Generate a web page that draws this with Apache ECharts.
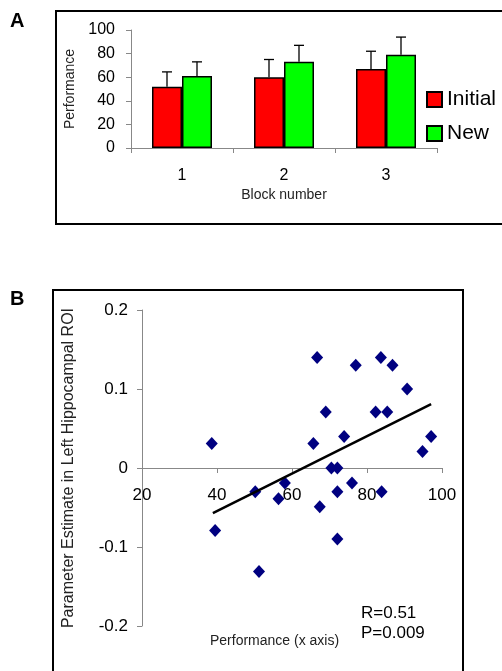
<!DOCTYPE html>
<html>
<head>
<meta charset="utf-8">
<script src="https://cdn.jsdelivr.net/npm/echarts@6/dist/echarts.min.js"></script>
<style>
  html, body { margin: 0; padding: 0; background: #fff; }
  #main { width: 502px; height: 671px; }
</style>
</head>
<body>
<div id="main"></div>
<script>
const FONT = 'Liberation Sans, Arial, sans-serif';

// panel A: performance by block
const blocks = ['1', '2', '3'];
const initialMean = [52, 60, 67];
const initialErr = [12.5, 15, 15];
const newMean = [61, 73, 79];
const newErr = [12, 14, 15];

// panel B: scatter of performance vs parameter estimate
const perfX = [38.6, 66.7, 69.0, 65.7, 73.9, 70.5, 72.1, 77.0, 83.7, 86.8, 90.7, 82.3, 85.4,
  94.8, 97.1, 58.1, 50.2, 56.4, 67.4, 72.1, 76.0, 83.9, 39.5, 72.1, 51.2];
const estY = [0.031, 0.140, 0.071, 0.031, 0.040, 0, 0, 0.130, 0.140, 0.130, 0.100, 0.071, 0.071,
  0.021, 0.040, -0.019, -0.030, -0.039, -0.049, -0.030, -0.019, -0.030, -0.079, -0.090, -0.131];
const trendX = [38.9, 97.1];
const trendY = [-0.057, 0.081];

const chart = echarts.init(document.getElementById('main'));

function errBar(offset) {
  return function (params, api) {
    const base = api.coord([api.value(0), api.value(1)]);
    const top = api.coord([api.value(0), api.value(2)]);
    const x = base[0] + offset;
    const st = { stroke: '#000', lineWidth: 1.3 };
    return {
      type: 'group',
      children: [
        { type: 'line', shape: { x1: x, y1: base[1], x2: x, y2: top[1] }, style: st },
        { type: 'line', shape: { x1: x - 5, y1: top[1], x2: x + 5, y2: top[1] }, style: st }
      ]
    };
  };
}

const axisGray = { lineStyle: { color: '#888', width: 1 } };

// grid B: y runs -0.2..0.2, so the x axis sits half the grid height above the bottom
const gridBHeight = 316;

chart.setOption({
  animation: false,
  textStyle: { fontFamily: FONT },
  graphic: [
    { type: 'rect', shape: { x: 56, y: 11, width: 460, height: 213 },
      style: { fill: 'none', stroke: '#000', lineWidth: 2 } },
    { type: 'rect', shape: { x: 53, y: 290, width: 410, height: 400 },
      style: { fill: 'none', stroke: '#000', lineWidth: 2 } },
    { type: 'text', left: 10, top: 11,
      style: { text: 'A', font: 'bold 20px ' + FONT, fill: '#000' } },
    { type: 'text', left: 10, top: 289,
      style: { text: 'B', font: 'bold 20px ' + FONT, fill: '#000' } },
    { type: 'text', left: 210, top: 634,
      style: { text: 'Performance (x axis)', font: '14px ' + FONT, fill: '#222' } },
    { type: 'text', left: 361, top: 603,
      style: { text: 'R=0.51\nP=0.009', font: '17px ' + FONT, fill: '#000', lineHeight: 20 } }
  ],
  legend: {
    data: ['Initial', 'New'],
    orient: 'vertical',
    left: 421,
    top: 84,
    itemWidth: 15,
    itemHeight: 15,
    itemGap: 13,
    icon: 'rect',
    textStyle: { fontSize: 21, color: '#000', fontFamily: FONT }
  },
  grid: [
    { left: 131, top: 30, width: 306, height: 118 },
    { left: 142, top: 310, width: 300, height: gridBHeight }
  ],
  xAxis: [
    {
      gridIndex: 0,
      type: 'category',
      data: blocks,
      axisLine: axisGray,
      axisTick: { show: true, length: 5, lineStyle: { color: '#888' } },
      axisLabel: { fontSize: 16, color: '#000', margin: 20 },
      name: 'Block number',
      nameLocation: 'middle',
      nameGap: 40,
      nameTextStyle: { fontSize: 14, color: '#222' }
    },
    {
      gridIndex: 1,
      type: 'value',
      min: 20,
      max: 100,
      interval: 20,
      offset: -gridBHeight / 2,
      axisLine: { onZero: false, lineStyle: { color: '#888', width: 1 } },
      axisTick: { show: true, length: 5, lineStyle: { color: '#888' } },
      axisLabel: { fontSize: 17, color: '#000', margin: 19 },
      splitLine: { show: false }
    }
  ],
  yAxis: [
    {
      gridIndex: 0,
      type: 'value',
      min: 0,
      max: 100,
      interval: 20,
      axisLine: { show: true, lineStyle: { color: '#888', width: 1 } },
      axisTick: { show: true, length: 5, lineStyle: { color: '#888' } },
      axisLabel: { fontSize: 16, color: '#000', margin: 16 },
      splitLine: { show: false },
      name: 'Performance',
      nameLocation: 'middle',
      nameGap: 51,
      nameTextStyle: { fontSize: 14, color: '#222' }
    },
    {
      gridIndex: 1,
      type: 'value',
      min: -0.2,
      max: 0.2,
      interval: 0.1,
      axisLine: { show: true, onZero: false, lineStyle: { color: '#888', width: 1 } },
      axisTick: { show: true, length: 5, lineStyle: { color: '#888' } },
      axisLabel: { fontSize: 17, color: '#000', margin: 14,
        formatter: v => String(+v.toFixed(1)) },
      splitLine: { show: false },
      name: 'Parameter Estimate in Left Hippocampal ROI',
      nameLocation: 'middle',
      nameGap: 65,
      nameTextStyle: { fontSize: 16, color: '#222' }
    }
  ],
  series: [
    {
      name: 'Initial',
      type: 'bar',
      xAxisIndex: 0,
      yAxisIndex: 0,
      data: initialMean,
      barWidth: 30,
      barGap: '0%',
      itemStyle: { color: '#ff0000', borderColor: '#000', borderWidth: 1.5 }
    },
    {
      name: 'New',
      type: 'bar',
      xAxisIndex: 0,
      yAxisIndex: 0,
      data: newMean,
      barWidth: 30,
      barGap: '0%',
      itemStyle: { color: '#00ff00', borderColor: '#000', borderWidth: 1.5 }
    },
    {
      name: 'errInitial',
      type: 'custom',
      xAxisIndex: 0,
      yAxisIndex: 0,
      renderItem: errBar(-15),
      data: blocks.map((b, i) => [i, initialMean[i], initialMean[i] + initialErr[i]]),
      z: 1
    },
    {
      name: 'errNew',
      type: 'custom',
      xAxisIndex: 0,
      yAxisIndex: 0,
      renderItem: errBar(15),
      data: blocks.map((b, i) => [i, newMean[i], newMean[i] + newErr[i]]),
      z: 1
    },
    {
      name: 'points',
      type: 'scatter',
      xAxisIndex: 1,
      yAxisIndex: 1,
      symbol: 'diamond',
      symbolSize: [12, 13],
      itemStyle: { color: '#000080', opacity: 1 },
      data: perfX.map((x, i) => [x, estY[i]]),
      z: 3
    },
    {
      name: 'trend',
      type: 'line',
      xAxisIndex: 1,
      yAxisIndex: 1,
      symbol: 'none',
      lineStyle: { color: '#000', width: 2.5 },
      data: trendX.map((x, i) => [x, trendY[i]]),
      z: 4
    }
  ]
});
</script>
</body>
</html>
